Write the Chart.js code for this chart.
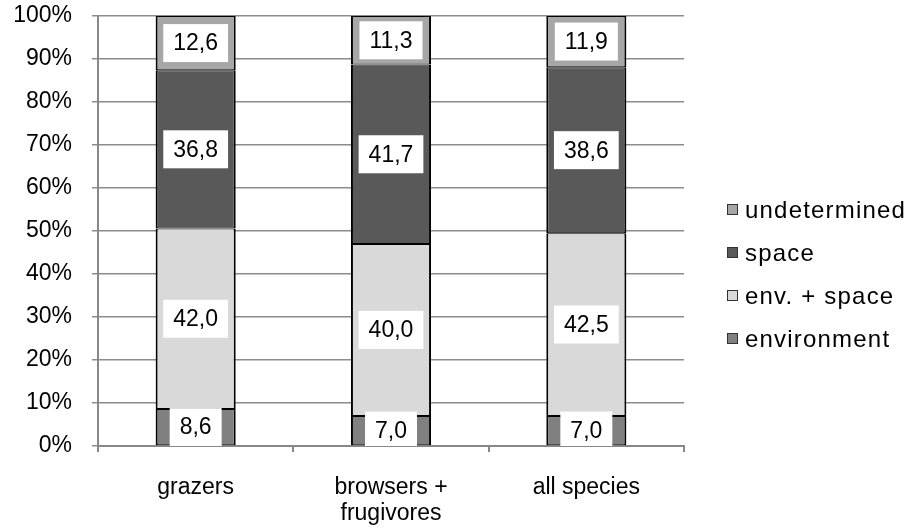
<!DOCTYPE html>
<html>
<head>
<meta charset="utf-8">
<script src="https://cdn.jsdelivr.net/npm/chart.js@4.4.1/dist/chart.umd.min.js"></script>
<style>
    html, body { margin: 0; padding: 0; background: #fff; }
    #wrap { width: 907px; height: 532px; position: relative; }
</style>
</head>
<body>
<div id="wrap"><canvas id="shareChart"></canvas></div>
<script>
const categories = ['grazers', ['browsers +', 'frugivores'], 'all species'];
const environment = [8.6, 7.0, 7.0];
const envSpace = [42.0, 40.0, 42.5];
const space = [36.8, 41.7, 38.6];
const undetermined = [12.6, 11.3, 11.9];
const yTicks = [0, 10, 20, 30, 40, 50, 60, 70, 80, 90, 100];

const FONT = '"Liberation Sans", Arial, sans-serif';

// white boxes with the value in the middle of each segment
const valueBoxes = {
    id: 'valueBoxes',
    afterDatasetsDraw(chart) {
        const ctx = chart.ctx;
        const area = chart.chartArea;
        ctx.save();
        ctx.beginPath();
        ctx.rect(area.left, area.top, area.right - area.left, area.bottom - area.top);
        ctx.clip();
        ctx.font = '23px ' + FONT;
        ctx.textAlign = 'center';
        ctx.textBaseline = 'middle';
        chart.data.datasets.forEach((ds, i) => {
            chart.getDatasetMeta(i).data.forEach((bar, j) => {
                const txt = ds.data[j].toFixed(1).replace('.', ',');
                const w = ctx.measureText(txt).width + 20;
                const h = 38;
                const cy = (bar.y + bar.base) / 2;
                ctx.fillStyle = '#fff';
                ctx.fillRect(bar.x - w / 2, cy - h / 2, w, h);
                ctx.fillStyle = '#000';
                ctx.fillText(txt, bar.x, cy + 1);
            });
        });
        ctx.restore();
    }
};

// legend on the right, top item = last series
const sideLegend = {
    id: 'sideLegend',
    afterDraw(chart) {
        const ctx = chart.ctx;
        const area = chart.chartArea;
        const x = area.right + 43;
        let y = area.top + 194;
        ctx.save();
        ctx.font = '24px ' + FONT;
        ctx.letterSpacing = '1.2px';
        ctx.textAlign = 'left';
        ctx.textBaseline = 'middle';
        chart.data.datasets.slice().reverse().forEach(ds => {
            ctx.fillStyle = ds.backgroundColor;
            ctx.fillRect(x, y - 6, 11, 11);
            ctx.strokeStyle = '#333';
            ctx.lineWidth = 1;
            ctx.strokeRect(x + 0.5, y - 5.5, 10, 10);
            ctx.fillStyle = '#000';
            ctx.fillText(ds.label, x + 18, y + 1);
            y += 43;
        });
        ctx.restore();
    }
};

const spacing = {
    id: 'spacing',
    beforeInit(chart) {
        chart.ctx.letterSpacing = '1px';
    }
};

function makeSeries(label, data, color) {
    return {
        label: label,
        data: data,
        backgroundColor: color,
        borderColor: '#000',
        borderWidth: { top: 1, bottom: 1, left: 2, right: 2 },
        borderSkipped: false,
        categoryPercentage: 1,
        barPercentage: 0.41
    };
}

Chart.defaults.font.family = FONT;
Chart.defaults.font.size = 23;
Chart.defaults.color = '#000';

new Chart(document.getElementById('shareChart'), {
    type: 'bar',
    data: {
        labels: categories,
        datasets: [
            makeSeries('environment', environment, '#808080'),
            makeSeries('env. + space', envSpace, '#d9d9d9'),
            makeSeries('space', space, '#595959'),
            makeSeries('undetermined', undetermined, '#a6a6a6')
        ]
    },
    options: {
        responsive: true,
        maintainAspectRatio: false,
        animation: false,
        layout: { padding: { top: 0, right: 223, left: 0, bottom: 0 } },
        plugins: {
            legend: { display: false },
            tooltip: { enabled: false }
        },
        scales: {
            x: {
                stacked: true,
                grid: { drawOnChartArea: false, color: '#888', tickLength: 6, lineWidth: 2 },
                border: { color: '#888', width: 2 },
                ticks: { padding: 22, font: { size: 23, lineHeight: 1.15 }, maxRotation: 0 },
                afterFit(s) { s.height = 86; }
            },
            y: {
                stacked: true,
                min: 0,
                max: 100,
                afterBuildTicks(s) { s.ticks = yTicks.map(v => ({ value: v })); },
                grid: { color: '#8c8c8c', lineWidth: 1.5, tickLength: 6 },
                border: { color: '#888', width: 2 },
                ticks: {
                    padding: 20,
                    callback: v => v + '%'
                },
                afterFit(s) {
                    s.width = 98;
                    s.paddingTop = 16;
                    s.paddingBottom = 0;
                }
            }
        }
    },
    plugins: [spacing, valueBoxes, sideLegend]
});
</script>
</body>
</html>
